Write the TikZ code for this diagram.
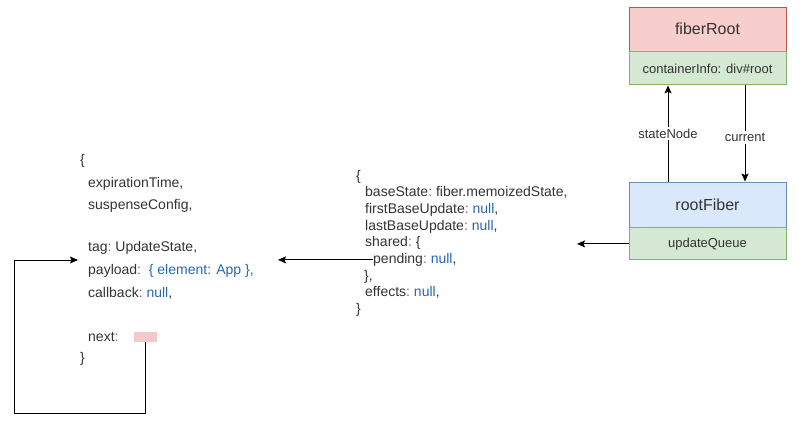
\documentclass[tikz,border=0pt]{standalone}
\usepackage{fontspec}
\setmainfont{Liberation Sans}
\usetikzlibrary{arrows.meta,positioning}

\definecolor{txtgray}{HTML}{333333}
\definecolor{valblue}{HTML}{2766B5}
\definecolor{colred}{HTML}{B0505A}
\definecolor{redfill}{HTML}{F8CECC}
\definecolor{redline}{HTML}{B85450}
\definecolor{greenfill}{HTML}{D5E8D4}
\definecolor{greenline}{HTML}{82B366}
\definecolor{bluefill}{HTML}{DAE8FC}
\definecolor{blueline}{HTML}{6C8EBF}
\definecolor{pinkfill}{HTML}{F4C9CC}

\newcommand{\cl}{\textcolor{colred}{:}}
\newcommand{\nl}{\textcolor{valblue}{null}}

\tikzset{
  box/.style={draw, minimum width=157pt, inner sep=0pt, line width=0.9pt,
    text=txtgray, font=\fontsize{13}{15}\selectfont},
  codeline/.style={anchor=base west, inner sep=0pt, text=txtgray,
    font=\fontsize{14}{16}\selectfont},
  arr/.style={-{Stealth[length=8pt,width=7pt,inset=1.5pt]}, line width=1pt},
  lbl/.style={fill=white, inner sep=2pt, text=txtgray,
    font=\fontsize{13}{15}\selectfont}
}

\begin{document}
\begin{tikzpicture}[x=1pt,y=-1pt]
\useasboundingbox (0,0) rectangle (808,424);

% fiberRoot and rootFiber
\node[box, fill=redfill, draw=redline, minimum height=44pt,
  font=\fontsize{16}{18}\selectfont] (fiberRoot) at (707.5,29) {fiberRoot};
\node[box, fill=greenfill, draw=greenline, minimum height=33pt, anchor=north]
  (containerInfo) at (fiberRoot.south) {containerInfo: div\#root};
\node[box, fill=bluefill, draw=blueline, minimum height=45pt,
  font=\fontsize{16}{18}\selectfont] (rootFiber) at (707.5,204.5) {rootFiber};
\node[box, fill=greenfill, draw=greenline, minimum height=32pt, anchor=north]
  (updateQueue) at (rootFiber.south) {updateQueue};

\coordinate (sn) at (668,0);
\coordinate (cu) at (745,0);
\draw[arr] (rootFiber.north -| sn) -- node[lbl]{stateNode} (containerInfo.south -| sn);
\draw[arr] (containerInfo.south -| cu) -- node[lbl, pos=0.54]{current} (rootFiber.north -| cu);

% updateQueue object
\node[codeline] (q0) at (356,180) {\{};
\node[codeline] (q1) at (365,196.7) {baseState\cl\ fiber.memoizedState,};
\node[codeline] (q2) at (365,213.4) {firstBaseUpdate\cl\ \nl,};
\node[codeline] (q3) at (365,230.1) {lastBaseUpdate\cl\ \nl,};
\node[codeline] (q4) at (365,246.8) {shared\cl\ \{};
\node[codeline] (q5) at (373,263.5) {pending\cl\ \nl,};
\node[codeline] (q6) at (364,280.2) {\},};
\node[codeline] (q7) at (365,296.9) {effects\cl\ \nl,};
\node[codeline] (q8) at (356,313.6) {\}};

% update object
\node[codeline] (u0) at (80,164) {\{};
\node[codeline] (u1) at (88,187) {expirationTime,};
\node[codeline] (u2) at (88,209) {suspenseConfig,};
\node[codeline] (u3) at (88,251) {tag\cl\ UpdateState,};
\node[codeline] (u4) at (88,274) {payload\cl\ \ \textcolor{valblue}{\{ element: App \},}};
\node[codeline] (u5) at (88,297) {callback\cl\ \nl,};
\node[codeline] (u6) at (88,341) {next\cl};
\node[codeline] (u7) at (80,362) {\}};
\node[fill=pinkfill, minimum width=23pt, minimum height=10pt, inner sep=0pt]
  (nextPtr) at (145.5,337) {};

% links
\coordinate (qIn) at (577,0);
\draw[arr] (updateQueue.west) -- (updateQueue.west -| qIn);
\coordinate (uIn) at (278,0);
\draw[arr] (q5.west) -- (q5.west -| uIn);
\coordinate (loopL) at (14,413);
\coordinate (loopIn) at (78,260);
\draw[arr] (nextPtr.south) |- (loopL) |- (loopIn);
\end{tikzpicture}
\end{document}
